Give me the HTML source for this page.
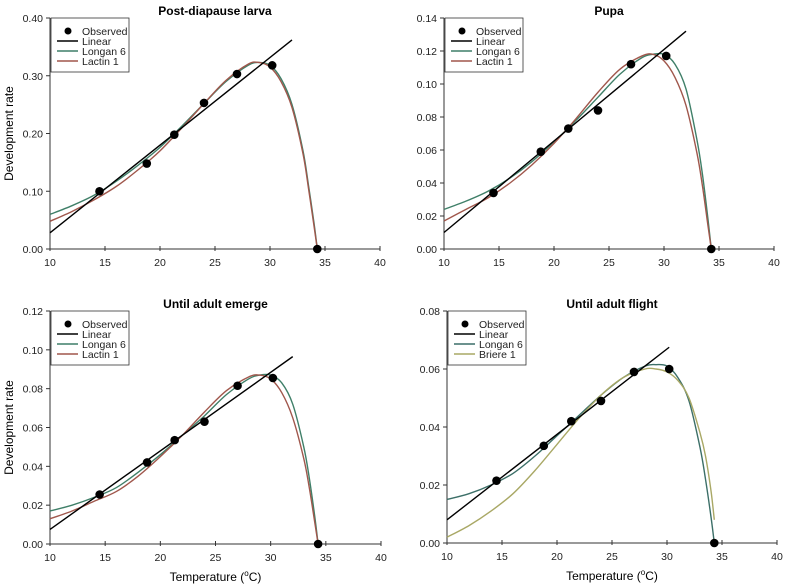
<!DOCTYPE html>
<html><head><meta charset="utf-8"><style>
html,body{margin:0;padding:0;background:#fff;width:788px;height:587px;overflow:hidden}
svg{display:block;font-family:"Liberation Sans",Arial,sans-serif}
</style></head><body>
<svg id="chart" width="788" height="587" viewBox="0 0 788 587"></svg>
<script>
const temps = [14.5, 18.8, 21.3, 24, 27, 30.2, 34.3];
const curveTemps = [10,12,14,16,18,20,22,24,26,28,29,30,31,32,33,33.5,34,34.3];

const obs1 = [0.100,0.148,0.198,0.253,0.303,0.318,0];
const lin1 = [[10,0.028],[32,0.362]];
const longan1 = [0.060,0.075,0.093,0.117,0.145,0.176,0.213,0.252,0.290,0.318,0.323,0.318,0.295,0.250,0.170,0.110,0.045,0];
const lactin1 = [0.048,0.065,0.085,0.108,0.137,0.170,0.210,0.252,0.292,0.320,0.323,0.315,0.290,0.245,0.165,0.105,0.040,0];

const obs2 = [0.034,0.059,0.073,0.084,0.112,0.117,0];
const lin2 = [[10,0.010],[32,0.132]];
const longan2 = [0.024,0.029,0.035,0.043,0.053,0.065,0.078,0.092,0.106,0.116,0.118,0.118,0.112,0.097,0.066,0.045,0.018,0];
const lactin2 = [0.017,0.024,0.031,0.040,0.051,0.064,0.079,0.095,0.109,0.117,0.118,0.114,0.104,0.087,0.058,0.038,0.014,0];

const obs3 = [0.0255,0.042,0.0535,0.063,0.0815,0.0855,0];
const lin3 = [[10,0.0075],[32,0.0965]];
const longan3 = [0.017,0.020,0.024,0.029,0.037,0.046,0.056,0.066,0.077,0.085,0.087,0.087,0.083,0.072,0.050,0.034,0.014,0];
const lactin3 = [0.013,0.017,0.022,0.027,0.035,0.045,0.056,0.068,0.079,0.086,0.087,0.085,0.078,0.065,0.044,0.029,0.011,0];

const obs4 = [0.0215,0.0335,0.042,0.049,0.059,0.060,0];
const lin4 = [[10,0.008],[30.2,0.0675]];
const longan4 = [0.015,0.017,0.020,0.024,0.030,0.037,0.044,0.051,0.057,0.061,0.0615,0.061,0.057,0.049,0.033,0.022,0.009,0];
const briere4 = [0.002,0.006,0.011,0.017,0.025,0.034,0.043,0.051,0.057,0.060,0.060,0.059,0.056,0.050,0.038,0.030,0.018,0.008];

const xTicks = [10,15,20,25,30,35,40];
const yTicks1 = [0,0.1,0.2,0.3,0.4];
const yTicks2 = [0,0.02,0.04,0.06,0.08,0.10,0.12,0.14];
const yTicks3 = [0,0.02,0.04,0.06,0.08,0.10,0.12];
const yTicks4 = [0,0.02,0.04,0.06,0.08];

const NS="http://www.w3.org/2000/svg";
const svg=document.getElementById('chart');
function el(tag,attrs,parent){const e=document.createElementNS(NS,tag);for(const k in attrs)e.setAttribute(k,attrs[k]);(parent||svg).appendChild(e);return e;}
function smooth(pts){let d=`M${pts[0][0]},${pts[0][1]}`;for(let i=0;i<pts.length-1;i++){const p0=pts[i-1]||pts[i],p1=pts[i],p2=pts[i+1],p3=pts[i+2]||p2;
d+=` C${p1[0]+(p2[0]-p0[0])/6},${p1[1]+(p2[1]-p0[1])/6} ${p2[0]-(p3[0]-p1[0])/6},${p2[1]-(p3[1]-p1[1])/6} ${p2[0]},${p2[1]}`;}return d;}

function panel(cfg){
  const g=el('g',{});
  
  
  const X=v=>cfg.x0+(v-10)/30*(cfg.x1-cfg.x0);
  const Y=v=>cfg.y0-(v/cfg.ymax)*(cfg.y0-cfg.y1);
  const t=el('text',{x:(cfg.x0+cfg.x1)/2+ (cfg.tdx||0),y:cfg.y1-3,'text-anchor':'middle','font-size':12,'font-weight':'bold'},g);
  t.textContent=cfg.title;
  
  
  // axes
  const ax=el('path',{d:`M${cfg.x0},${cfg.y1}V${cfg.y0}H${cfg.x1}`,stroke:'#333',fill:'none','stroke-width':1},g);
  
  
  xTicks.forEach(v=>{
    el('line',{x1:X(v),x2:X(v),y1:cfg.y0-3,y2:cfg.y0+2,stroke:'#333'},g);
    const tx=el('text',{x:X(v),y:cfg.y0+17,'text-anchor':'middle','font-size':10.5,fill:'#222'},g);
    tx.textContent=v;
    
    
  });
  cfg.yTicks.forEach(v=>{
    el('line',{x1:cfg.x0-4,x2:cfg.x0,y1:Y(v),y2:Y(v),stroke:'#333'},g);
    const ty=el('text',{x:cfg.x0-7,y:Y(v)+4,'text-anchor':'end','font-size':10.5,fill:'#222'},g);
    ty.textContent=v.toFixed(2);
    
    
  });
  if(cfg.ylabel){
    const yl=el('text',{transform:`translate(${cfg.x0-37},${(cfg.y0+cfg.y1)/2}) rotate(-90)`,'text-anchor':'middle','font-size':12},g);
    yl.textContent='Development rate';
    
    
  }
  if(cfg.xlabel){
    const xl=el('text',{x:(cfg.x0+cfg.x1)/2,y:cfg.y0+37,'text-anchor':'middle','font-size':12},g);
    xl.innerHTML='Temperature (<tspan dy="-5" font-size="8">o</tspan><tspan dy="5">C)</tspan>';
    
    
  }
  // curves
  cfg.curves.forEach(c=>{
    const p=el('path',{d:smooth(curveTemps.map((tv,i)=>[X(tv),Y(c.vals[i])])),stroke:c.color,fill:'none','stroke-width':1.4},g);
    
    
  });
  const ln=el('line',{x1:X(cfg.lin[0][0]),y1:Y(cfg.lin[0][1]),x2:X(cfg.lin[1][0]),y2:Y(cfg.lin[1][1]),stroke:'#000','stroke-width':1.4},g);
  
  
  temps.forEach((tv,i)=>{
    const c=el('circle',{cx:X(tv),cy:Y(cfg.obs[i]),r:4.3,fill:'#000'},g);
    
    
  });
  // legend
  const lg=el('g',{},g);
  
  
  const lx=cfg.x0+1, ly=cfg.y1;
  el('rect',{x:lx,y:ly,width:78,height:54,fill:'#fff',stroke:'#333','stroke-width':0.8},lg);
  const entries=[{label:'Observed',dot:true},{label:'Linear',color:'#000'}].concat(cfg.curves.map(c=>({label:c.label,color:c.color})));
  entries.forEach((e,i)=>{
    const yy=ly+13+i*10;
    if(e.dot)el('circle',{cx:lx+17,cy:yy,r:3.5,fill:'#000'},lg);
    else el('line',{x1:lx+6,x2:lx+27,y1:yy,y2:yy,stroke:e.color,'stroke-width':1.4},lg);
    const tt=el('text',{x:lx+31,y:yy+4,'font-size':10.5,fill:'#222'},lg);
    tt.textContent=e.label;
    
    
  });
}
const GREEN='#3f7f68', RED='#a0574c', OLIVE='#a9a865';
panel({name:'panel-post-diapause-larva',title:'Post-diapause larva',x0:50,x1:380,y0:249,y1:18,ymax:0.4,yTicks:yTicks1,ylabel:true,obs:obs1,lin:lin1,
  curves:[{key:'longan-6',label:'Longan 6',color:GREEN,vals:longan1},{key:'lactin-1',label:'Lactin 1',color:RED,vals:lactin1}]});
panel({name:'panel-pupa',title:'Pupa',x0:444,x1:774,y0:249,y1:18,ymax:0.14,yTicks:yTicks2,obs:obs2,lin:lin2,
  curves:[{key:'longan-6',label:'Longan 6',color:GREEN,vals:longan2},{key:'lactin-1',label:'Lactin 1',color:RED,vals:lactin2}]});
panel({name:'panel-until-adult-emerge',title:'Until adult emerge',x0:50,x1:381,y0:544,y1:311,ymax:0.12,yTicks:yTicks3,ylabel:true,xlabel:true,obs:obs3,lin:lin3,
  curves:[{key:'longan-6',label:'Longan 6',color:GREEN,vals:longan3},{key:'lactin-1',label:'Lactin 1',color:RED,vals:lactin3}]});
panel({name:'panel-until-adult-flight',title:'Until adult flight',x0:447,x1:777,y0:543,y1:311,ymax:0.08,yTicks:yTicks4,xlabel:true,obs:obs4,lin:lin4,
  curves:[{key:'longan-6',label:'Longan 6',color:'#3c6f68',vals:longan4},{key:'briere-1',label:'Briere 1',color:OLIVE,vals:briere4}]});
</script>
</body></html>
